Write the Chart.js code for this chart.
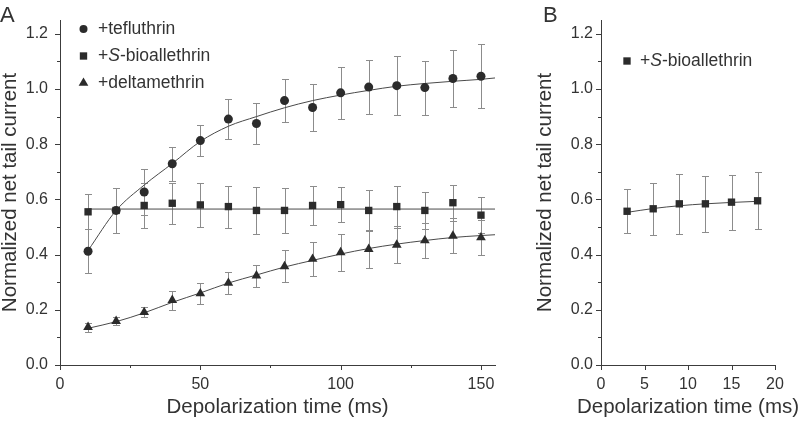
<!DOCTYPE html>
<html>
<head>
<meta charset="utf-8">
<script src="https://cdn.jsdelivr.net/npm/chart.js@4.4.1/dist/chart.umd.min.js"></script>
<style>
  html, body { margin: 0; padding: 0; background: #fff; }
  #wrap { position: relative; width: 800px; height: 425px; }
  #chartA { position: absolute; left: 0; top: 0; }
  #chartB { position: absolute; left: 530px; top: 0; }
</style>
</head>
<body>
<div id="wrap">
  <canvas id="chartA" width="530" height="425"></canvas>
  <canvas id="chartB" width="270" height="425"></canvas>
</div>
<script>
// ---- data ----
var timesA = [10, 20, 30, 40, 50, 60, 70, 80, 90, 100, 110, 120, 130, 140, 150];
var teflu    = [0.412, 0.560, 0.627, 0.729, 0.813, 0.891, 0.875, 0.958, 0.933, 0.986, 1.007, 1.012, 1.005, 1.038, 1.046];
var tefluErr = [0.080, 0.083, 0.082, 0.062, 0.056, 0.072, 0.076, 0.078, 0.085, 0.095, 0.098, 0.108, 0.098, 0.103, 0.116];
var sbio     = [0.555, 0.560, 0.578, 0.586, 0.580, 0.574, 0.560, 0.560, 0.578, 0.581, 0.560, 0.574, 0.560, 0.588, 0.543];
var sbioErr  = [0.063, 0.083, 0.083, 0.075, 0.079, 0.076, 0.085, 0.081, 0.071, 0.063, 0.074, 0.076, 0.068, 0.065, 0.065];
var delta    = [0.137, 0.159, 0.191, 0.235, 0.259, 0.297, 0.324, 0.357, 0.384, 0.408, 0.420, 0.435, 0.451, 0.468, 0.462];
var deltaErr = [0.016, 0.015, 0.018, 0.034, 0.038, 0.040, 0.040, 0.058, 0.062, 0.067, 0.068, 0.067, 0.065, 0.063, 0.065];

// fitted curves
var fitXA    = [10, 20, 30, 40, 50, 60, 70, 80, 90, 100, 110, 120, 130, 140, 150, 155];
var tefluFit = [0.415, 0.560, 0.652, 0.730, 0.810, 0.865, 0.900, 0.932, 0.958, 0.978, 0.995, 1.010, 1.020, 1.028, 1.035, 1.040];
var sbioFit  = [0.565, 0.565, 0.565, 0.565, 0.565, 0.565, 0.565, 0.565, 0.565, 0.565, 0.565, 0.565, 0.565, 0.565, 0.565, 0.565];
var deltaFit = [0.133, 0.157, 0.189, 0.227, 0.261, 0.297, 0.326, 0.355, 0.379, 0.402, 0.422, 0.438, 0.451, 0.462, 0.469, 0.472];

var timesB   = [3, 6, 9, 12, 15, 18];
var sbioB    = [0.557, 0.566, 0.584, 0.584, 0.590, 0.595];
var sbioBErr = [0.080, 0.095, 0.108, 0.102, 0.100, 0.103];
var sbioBFit = [0.553, 0.567, 0.577, 0.584, 0.589, 0.593];

var labelsA = ['+tefluthrin', '+*S*-bioallethrin', '+deltamethrin'];
var labelsB = ['+*S*-bioallethrin'];
var xTitle = 'Depolarization time (ms)';
var yTitle = 'Normalized net tail current';

// ---- look ----
var FONT = "'Liberation Sans', Arial, Helvetica, sans-serif";
var ink = '#2b2b2b';
var textCol = '#333333';
var axisCol = '#3c3c3c';
var barCol = '#8c8c8c';
var fitCol = '#4a4a4a';
var titleSize = 20.5;

Chart.defaults.font.family = FONT;

function pts(xs, ys) {
  return xs.map(function (x, i) { return {x: x, y: ys[i]}; });
}

function pointSet(label, xs, ys, errs, style, r) {
  return {
    label: label,
    data: pts(xs, ys),
    errors: errs,
    showLine: false,
    pointStyle: style,
    pointRadius: r,
    pointBorderWidth: 0,
    backgroundColor: ink,
    borderColor: ink
  };
}

function fitSet(xs, ys) {
  return {
    data: pts(xs, ys),
    showLine: true,
    pointRadius: 0,
    borderWidth: 1,
    borderColor: fitCol,
    cubicInterpolationMode: 'monotone',
    fill: false
  };
}

// error bars, drawn under the markers
var errorBars = {
  id: 'errorBars',
  beforeDatasetsDraw: function (chart) {
    var ctx = chart.ctx;
    var xs = chart.scales.x, ys = chart.scales.y;
    ctx.save();
    ctx.strokeStyle = barCol;
    ctx.lineWidth = 1;
    chart.data.datasets.forEach(function (ds) {
      if (!ds.errors) return;
      ds.data.forEach(function (p, j) {
        var e = ds.errors[j];
        var px = Math.round(xs.getPixelForValue(p.x)) + 0.5;
        var top = Math.round(ys.getPixelForValue(p.y + e)) + 0.5;
        var bot = Math.round(ys.getPixelForValue(p.y - e)) + 0.5;
        ctx.beginPath();
        ctx.moveTo(px, top); ctx.lineTo(px, bot);
        ctx.moveTo(px - 3.5, top); ctx.lineTo(px + 3.5, top);
        ctx.moveTo(px - 3.5, bot); ctx.lineTo(px + 3.5, bot);
        ctx.stroke();
      });
    });
    ctx.restore();
  }
};

// outward tick marks, short ones for unlabelled ticks
var tickMarks = {
  id: 'tickMarks',
  afterDraw: function (chart) {
    var ctx = chart.ctx, a = chart.chartArea;
    ctx.save();
    ctx.strokeStyle = axisCol;
    ctx.lineWidth = 1;
    ctx.beginPath();
    chart.scales.x.ticks.forEach(function (t) {
      var len = t.label === '' ? 3 : 5;
      var px = Math.round(chart.scales.x.getPixelForValue(t.value)) + 0.5;
      ctx.moveTo(px, a.bottom); ctx.lineTo(px, a.bottom + len);
    });
    chart.scales.y.ticks.forEach(function (t) {
      var len = t.label === '' ? 3 : 5;
      var py = Math.round(chart.scales.y.getPixelForValue(t.value)) + 0.5;
      ctx.moveTo(a.left, py); ctx.lineTo(a.left - len, py);
    });
    ctx.stroke();
    ctx.restore();
  }
};

function drawMarker(ctx, style, r, x, y) {
  ctx.beginPath();
  if (style === 'circle') {
    ctx.arc(x, y, r, 0, Math.PI * 2);
  } else if (style === 'rect') {
    var s = r * Math.SQRT1_2;
    ctx.rect(x - s, y - s, 2 * s, 2 * s);
  } else {
    ctx.moveTo(x, y - r);
    ctx.lineTo(x + r * 0.866, y + r * 0.5);
    ctx.lineTo(x - r * 0.866, y + r * 0.5);
    ctx.closePath();
  }
  ctx.fill();
}

// legend with italic pieces marked by *...*
var richLegend = {
  id: 'richLegend',
  afterDraw: function (chart, args, opts) {
    var ctx = chart.ctx;
    ctx.save();
    ctx.textBaseline = 'middle';
    var row = 0;
    chart.data.datasets.forEach(function (ds) {
      if (!ds.label) return;
      var y = opts.y + row * opts.rowH;
      ctx.fillStyle = ink;
      drawMarker(ctx, ds.pointStyle, opts.markerR[row], opts.x, y);
      var x = opts.textX;
      ctx.fillStyle = textCol;
      ds.label.split('*').forEach(function (part, k) {
        ctx.font = (k % 2 ? 'italic ' : '') + opts.size + 'px ' + FONT;
        ctx.fillText(part, x, y);
        x += ctx.measureText(part).width;
      });
      row++;
    });
    ctx.restore();
  }
};

// panel letter and, when asked, an x title that may run past the chart area
var panelText = {
  id: 'panelText',
  afterDraw: function (chart, args, opts) {
    var ctx = chart.ctx, a = chart.chartArea;
    ctx.save();
    ctx.fillStyle = textCol;
    ctx.font = '22px ' + FONT;
    ctx.textBaseline = 'alphabetic';
    ctx.fillText(opts.letter, opts.letterX, opts.letterY);
    if (opts.xTitle) {
      ctx.font = titleSize + 'px ' + FONT;
      ctx.textAlign = 'center';
      ctx.textBaseline = 'middle';
      ctx.fillText(opts.xTitle, (a.left + a.right) / 2, opts.xTitleY);
    }
    ctx.restore();
  }
};

function xAxis(max, step, labelEvery, showTitle) {
  return {
    type: 'linear',
    min: 0, max: max,
    afterFit: function (s) { s.height = 60; },
    border: {display: true, color: axisCol, width: 1},
    grid: {display: false, drawTicks: true, tickLength: 5},
    ticks: {
      stepSize: step, includeBounds: false, autoSkip: false, maxRotation: 0,
      padding: 5, color: textCol, font: {size: 16},
      callback: function (v) { return Math.round(v) % labelEvery === 0 ? String(v) : ''; }
    },
    title: {display: showTitle, text: xTitle, color: textCol, font: {size: titleSize}, padding: {top: 0, bottom: 5}}
  };
}

function yAxis(width, labelPad, titlePad) {
  return {
    type: 'linear',
    min: 0, max: 1.25,
    afterFit: function (s) { s.width = width; },
    border: {display: true, color: axisCol, width: 1},
    grid: {display: false, drawTicks: true, tickLength: 5},
    ticks: {
      stepSize: 0.1, includeBounds: false, autoSkip: false,
      padding: labelPad, color: textCol, font: {size: 16},
      callback: function (v) { return Math.round(v * 10) % 2 === 0 ? v.toFixed(1) : ''; }
    },
    title: {display: true, text: yTitle, color: textCol, font: {size: titleSize}, padding: {top: titlePad, bottom: 0}}
  };
}

var chartA = new Chart(document.getElementById('chartA'), {
  type: 'scatter',
  data: {
    datasets: [
      pointSet(labelsA[0], timesA, teflu, tefluErr, 'circle', 4.5),
      pointSet(labelsA[1], timesA, sbio, sbioErr, 'rect', 5.2),
      pointSet(labelsA[2], timesA, delta, deltaErr, 'triangle', 5.6),
      fitSet(fitXA, tefluFit),
      fitSet(fitXA, sbioFit),
      fitSet(fitXA, deltaFit)
    ]
  },
  options: {
    responsive: false,
    animation: false,
    events: [],
    layout: {padding: {left: 0, top: 20, right: 35, bottom: 0}},
    scales: {x: xAxis(155, 25, 50, true), y: yAxis(60, 7, -1.5)},
    plugins: {
      legend: {display: false},
      tooltip: {enabled: false},
      richLegend: {x: 83.5, textX: 98, y: 29, rowH: 27, size: 17.5, markerR: [4, 5.2, 5.6]},
      panelText: {letter: 'A', letterX: 0, letterY: 22}
    }
  },
  plugins: [errorBars, tickMarks, richLegend, panelText]
});

var chartB = new Chart(document.getElementById('chartB'), {
  type: 'scatter',
  data: {
    datasets: [
      pointSet(labelsB[0], timesB, sbioB, sbioBErr, 'rect', 5.2),
      fitSet(timesB, sbioBFit)
    ]
  },
  options: {
    responsive: false,
    animation: false,
    events: [],
    layout: {padding: {left: 3.5, top: 20, right: 25, bottom: 0}},
    scales: {x: xAxis(20, 5, 5, false), y: yAxis(67.5, 3, 0)},
    plugins: {
      legend: {display: false},
      tooltip: {enabled: false},
      richLegend: {x: 97, textX: 110, y: 61, rowH: 27, size: 17.5, markerR: [5.2]},
      panelText: {letter: 'B', letterX: 13, letterY: 22, xTitle: xTitle, xTitleY: 407.7}
    }
  },
  plugins: [errorBars, tickMarks, richLegend, panelText]
});
</script>
</body>
</html>
